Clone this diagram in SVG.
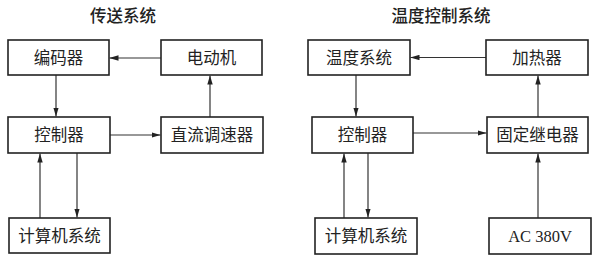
<svg xmlns="http://www.w3.org/2000/svg" width="602" height="262" viewBox="0 0 602 262">
<style>
.box{fill:#fff;stroke:#222;stroke-width:1.6}
.t{font-family:"Liberation Serif","Noto Sans CJK SC",serif;font-size:16.5px;fill:#222;text-anchor:middle;dominant-baseline:central}
.title{font-family:"Liberation Serif","Noto Sans CJK SC",serif;font-size:16.5px;font-weight:500;fill:#222;text-anchor:middle;dominant-baseline:central}
.c{stroke:#333;stroke-width:1.2;fill:none;marker-end:url(#ah)}
</style>
<defs>
<marker id="ah" viewBox="0 0 10 6" refX="10" refY="3" markerWidth="9" markerHeight="5.4" markerUnits="userSpaceOnUse" orient="auto">
<path d="M0,0 L10,3 L0,6 Z" fill="#222"/>
</marker>
</defs>
<rect width="602" height="262" fill="#fff"/>
<text class="title" x="123" y="16">传送系统</text>
<text class="title" x="441" y="16">温度控制系统</text>
<g id="connectors">
<line class="c" x1="161" y1="58" x2="109.5" y2="58"/>
<line class="c" x1="56" y1="75" x2="56" y2="116.5"/>
<line class="c" x1="110" y1="135" x2="160.5" y2="135"/>
<line class="c" x1="210" y1="117" x2="210" y2="75.5"/>
<line class="c" x1="40" y1="218" x2="40" y2="153.5"/>
<line class="c" x1="77" y1="153" x2="77" y2="217.5"/>
<line class="c" x1="486" y1="57.5" x2="410.5" y2="57.5"/>
<line class="c" x1="356" y1="75" x2="356" y2="116.5"/>
<line class="c" x1="413" y1="133" x2="486.5" y2="133"/>
<line class="c" x1="538" y1="117" x2="538" y2="75.5"/>
<line class="c" x1="344" y1="218" x2="344" y2="153.5"/>
<line class="c" x1="368" y1="153" x2="368" y2="217.5"/>
<line class="c" x1="538" y1="218" x2="538" y2="153.5"/>
</g>
<g id="encoder"><rect class="box" x="8" y="40" width="101" height="35"/><text class="t" x="58.5" y="58">编码器</text></g>
<g id="motor"><rect class="box" x="161" y="40" width="101" height="35"/><text class="t" x="211.5" y="58">电动机</text></g>
<g id="controller1"><rect class="box" x="8" y="117" width="102" height="36"/><text class="t" x="59" y="135.5">控制器</text></g>
<g id="dcspeed"><rect class="box" x="161" y="117" width="102" height="36"/><text class="t" x="212" y="135.5">直流调速器</text></g>
<g id="computer1"><rect class="box" x="9" y="218" width="101" height="35"/><text class="t" x="59.5" y="236">计算机系统</text></g>
<g id="tempsys"><rect class="box" x="308" y="40" width="102" height="35"/><text class="t" x="359" y="58">温度系统</text></g>
<g id="heater"><rect class="box" x="486" y="40" width="102" height="35"/><text class="t" x="537" y="58">加热器</text></g>
<g id="controller2"><rect class="box" x="312" y="117" width="101" height="36"/><text class="t" x="362.5" y="135.5">控制器</text></g>
<g id="relay"><rect class="box" x="487" y="117" width="101" height="36"/><text class="t" x="537.5" y="135.5">固定继电器</text></g>
<g id="computer2"><rect class="box" x="315" y="218" width="102" height="36"/><text class="t" x="366" y="236.5">计算机系统</text></g>
<g id="ac380"><rect class="box" x="489" y="218" width="102" height="36"/><text class="t" x="540" y="236.5">AC 380V</text></g>
</svg>
